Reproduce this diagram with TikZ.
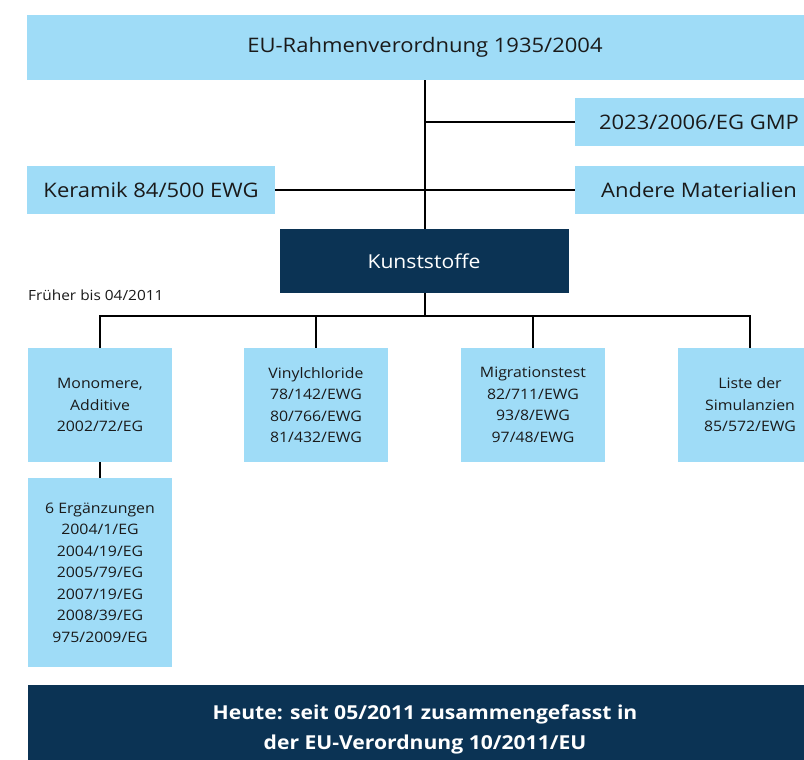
\documentclass[tikz,border=0pt]{standalone}
\usepackage{fontspec}
\setmainfont[FakeStretch=1.1]{Open Sans}
\definecolor{lblue}{HTML}{9FDCF7}
\definecolor{navy}{HTML}{0B3354}
\definecolor{ink}{HTML}{1A1A1A}
\begin{document}
\begin{tikzpicture}[x=1pt,y=-1pt,
  lbox/.style={fill=lblue,draw=none,inner sep=0pt,align=center,text=ink},
  dbox/.style={fill=navy,draw=none,inner sep=0pt,align=center,text=white},
  big/.style={font=\fontsize{20}{24}\selectfont},
  conn/.style={draw=black,line width=2pt}]
\useasboundingbox (0,0) rectangle (804,760);
\clip (0,0) rectangle (804,760);
\fill[white] (0,0) rectangle (804,760);
\node[lbox,big,minimum width=796pt,minimum height=65pt] (top) at (425,47.5) {EU-Rahmenverordnung 1935/2004};
\node[lbox,big,minimum width=248pt,minimum height=48pt] (gmp) at (699,122) {2023/2006/EG GMP};
\node[lbox,big,minimum width=248pt,minimum height=48pt] (ker) at (151,190) {Keramik 84/500 EWG};
\node[lbox,big,minimum width=248pt,minimum height=48pt] (and) at (699,190) {Andere Materialien};
\node[dbox,minimum width=289pt,minimum height=64pt,font=\fontsize{19.2}{24}\selectfont] (kunst) at (424,261) {Kunststoffe};
\node[anchor=west,inner sep=0pt,text=ink,font=\fontsize{14}{16}\selectfont] (frueher) at (28,295) {Früher bis 04/2011};
\begin{scope}[every node/.style={lbox,minimum width=144pt,minimum height=114pt,font=\fontsize{14.4}{21.5}\selectfont}]
\node (b1) at (100,405) {Monomere,\\Additive\\2002/72/EG};
\node (b2) at (316,405) {Vinylchloride\\78/142/EWG\\80/766/EWG\\81/432/EWG};
\node (b3) at (533,405) {Migrationstest\\82/711/EWG\\93/8/EWG\\97/48/EWG};
\node (b4) at (750,405) {Liste der\\Simulanzien\\85/572/EWG};
\node[minimum height=189pt] (b5) at (100,572.5) {6 Ergänzungen\\2004/1/EG\\2004/19/EG\\2005/79/EG\\2007/19/EG\\2008/39/EG\\975/2009/EG};
\end{scope}
\node[dbox,minimum width=794pt,minimum height=80pt,anchor=north] (heute) at (425,685) {};
\node[inner sep=0pt,align=center,text=white,font=\bfseries\fontsize{19.2}{30}\selectfont] (heutetxt) at (425,729) {Heute: seit 05/2011 zusammengefasst in\\der EU-Verordnung 10/2011/EU};
\coordinate (bus) at (425,316);
\draw[conn] (top.south) -- (top.south |- kunst.north);
\draw[conn] (gmp.west) -- (gmp.west -| top.south);
\draw[conn] (ker.east) -- (and.west);
\draw[conn] (kunst.south -| bus) -- (bus);
\draw[conn] (b1.north) -- (b1.north |- bus) -- (b4.north |- bus) -- (b4.north);
\draw[conn] (b2.north) -- (b2.north |- bus);
\draw[conn] (b3.north) -- (b3.north |- bus);
\draw[conn] (b1.south) -- (b5.north);
\end{tikzpicture}
\end{document}
